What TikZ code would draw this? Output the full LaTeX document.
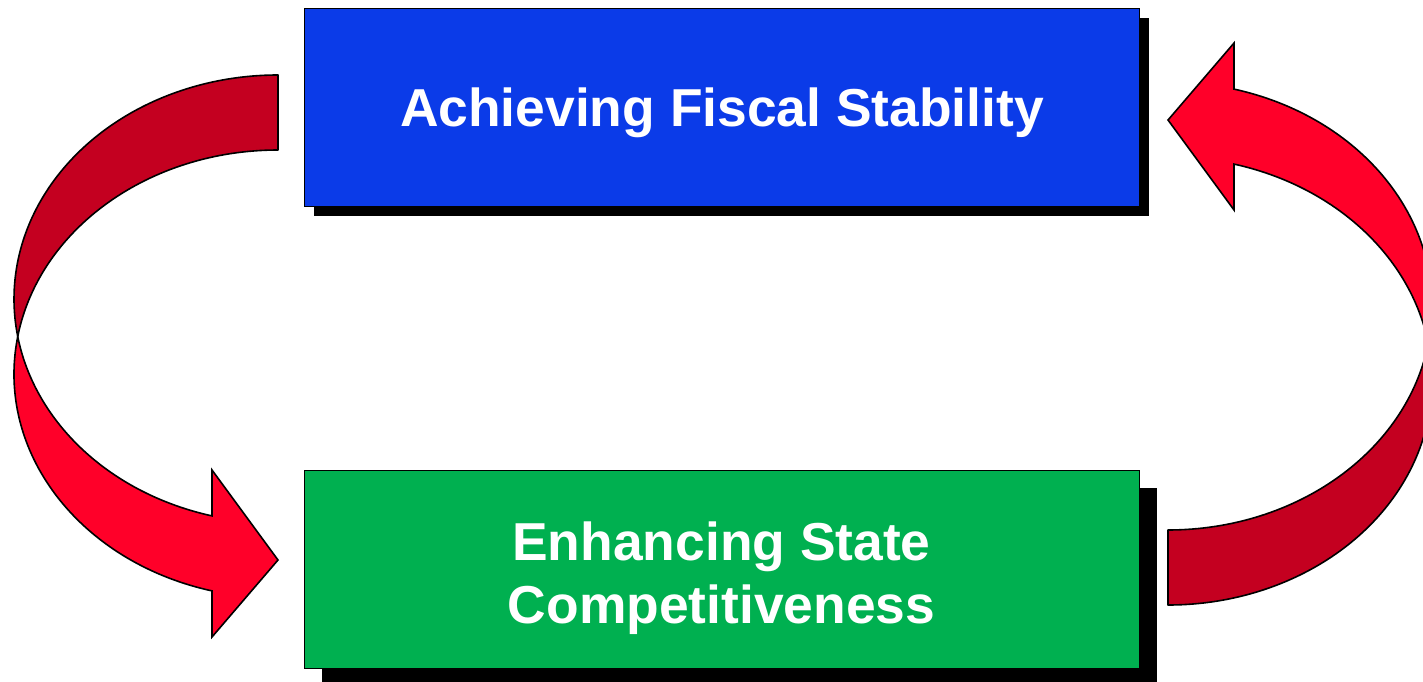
\documentclass[tikz,border=0pt]{standalone}
\usepackage{fontspec}
\setmainfont{Liberation Sans}
\usetikzlibrary{shadows}
\definecolor{boxblue}{RGB}{11,59,232}
\definecolor{boxgreen}{RGB}{0,176,80}
\definecolor{arrowlight}{RGB}{255,0,41}
\definecolor{arrowdark}{RGB}{196,0,32}
\tikzset{
  stagebox/.style={draw=black, line width=0.8pt, minimum width=835pt, minimum height=198pt, inner sep=0pt},
  labeltext/.style={text=white, font=\fontsize{53.4pt}{64pt}\selectfont\bfseries, inner sep=0pt, anchor=base},
  backface/.style={fill=arrowdark, draw=black, line width=1.6pt, line join=round},
  frontface/.style={fill=arrowlight, draw=black, line width=1.6pt, line join=miter},
}
\newcommand{\arrowback}{%
  \path[backface] (278,75) arc[start angle=270, end angle=170.36, x radius=264, y radius=224]
    arc[start angle=189.64, end angle=270, x radius=264, y radius=224] -- cycle;}
\newcommand{\arrowfront}{%
  \path[frontface] (17.73,336.52) arc[start angle=170.36, end angle=104.48, x radius=264, y radius=224]
    -- (212,470) -- (278,560) -- (212,637) -- (212,590.89)
    arc[start angle=104.48, end angle=189.64, x radius=264, y radius=224] -- cycle;}
\begin{document}
\begin{tikzpicture}[x=1pt,y=-1pt]
\useasboundingbox (0,0) rectangle (1423,682);
\clip (0,0) rectangle (1423,682);
% boxes
\node[stagebox, fill=boxblue, drop shadow={shadow xshift=10pt, shadow yshift=-10pt, opacity=1, fill=black}] (fiscal) at (721.5,107) {};
\node[stagebox, fill=boxgreen, drop shadow={shadow xshift=18pt, shadow yshift=-18pt, opacity=1, fill=black}] (compet) at (721.5,569) {};
\node[labeltext] (fiscaltext) at (722,127) {Achieving Fiscal Stability};
\node[labeltext] (competone) at (721.5,560) {Enhancing State};
\node[labeltext] (compettwo) at (721.5,623) {Competitiveness};
% left curved arrow
\arrowback
\arrowfront
% right curved arrow (rotated copy)
\begin{scope}[shift={(1446,680)}, scale=-1]
\arrowback
\arrowfront
\end{scope}
\end{tikzpicture}
\end{document}
